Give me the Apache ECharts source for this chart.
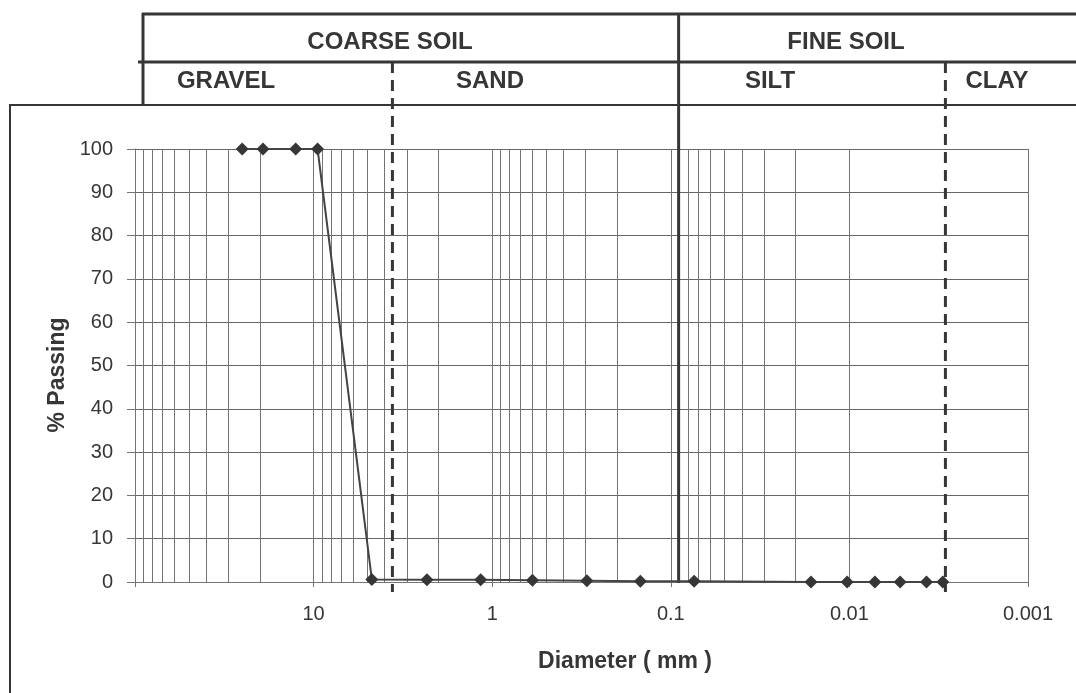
<!DOCTYPE html>
<html><head><meta charset="utf-8">
<script src="https://cdn.jsdelivr.net/npm/echarts@6/dist/echarts.min.js"></script>
<style>html,body{margin:0;padding:0;background:#fff}#c{width:1076px;height:693px}</style>
</head><body><div id="c"></div>
<script>
// ---- data ----
const diameters = [25.1, 19.2, 12.6, 9.5, 4.72, 2.32, 1.16, 0.595, 0.295, 0.148, 0.074, 0.0164, 0.0103, 0.0072, 0.0052, 0.0037, 0.0030];
const passing   = [100, 100, 100, 100, 0.6, 0.5, 0.5, 0.4, 0.3, 0.2, 0.2, 0, 0, 0, 0, 0, 0];
const xTickLabels = ['0.001', '0.01', '0.1', '1', '10', ''];   // for 10^-3 ... 10^2
const gridMultipliers = [2, 3, 4, 5, 6, 7, 8, 9];
const gridDecades = [0.001, 0.01, 0.1, 1, 10];
const boundaryDiameters = [3.62, 0.0904, 0.0029];
const boundaryKinds = ['dashed', 'solid', 'dashed'];
const groupNames = ['COARSE SOIL', 'FINE SOIL'];
const classNames = ['GRAVEL', 'SAND', 'SILT', 'CLAY'];
const xTitle = 'Diameter ( mm )';
const yTitle = '% Passing';

const INK = '#363636';
const GRID = '#747474';
const FONT = '"Liberation Sans", Arial, sans-serif';

const minorLines = [];
gridDecades.forEach(d => gridMultipliers.forEach(m => minorLines.push({ xAxis: +(d * m).toPrecision(3) })));

const chart = echarts.init(document.getElementById('c'), null, { renderer: 'canvas' });

const groupPos = [[390, 42], [846, 42]];
const classPos = [[226, 81], [490, 81], [770, 81], [997, 81]];
const graphics = [
  { type: 'polyline', shape: { points: [[10, 700], [10, 105], [1080, 105]] }, style: { stroke: INK, lineWidth: 2, fill: null } },
  { type: 'line', shape: { x1: 142, y1: 14, x2: 1080, y2: 14 }, style: { stroke: INK, lineWidth: 3 } },
  { type: 'line', shape: { x1: 138, y1: 62, x2: 1080, y2: 62 }, style: { stroke: INK, lineWidth: 3 } },
  { type: 'line', shape: { x1: 143, y1: 13, x2: 143, y2: 105 }, style: { stroke: INK, lineWidth: 3 } },
  {
    type: 'text', x: 625, y: 662,
    style: { text: xTitle, font: 'bold 23px ' + FONT, fill: INK, textAlign: 'center', textVerticalAlign: 'middle' }
  },
  {
    type: 'text', x: 58, y: 375, rotation: Math.PI / 2,
    style: { text: yTitle, font: 'bold 23px ' + FONT, fill: INK, textAlign: 'center', textVerticalAlign: 'middle' }
  }
];
groupNames.forEach((t, i) => graphics.push({
  type: 'text', x: groupPos[i][0], y: groupPos[i][1],
  style: { text: t, font: 'bold 24px ' + FONT, fill: INK, textAlign: 'center', textVerticalAlign: 'middle' }
}));
classNames.forEach((t, i) => graphics.push({
  type: 'text', x: classPos[i][0], y: classPos[i][1],
  style: { text: t, font: 'bold 24px ' + FONT, fill: INK, textAlign: 'center', textVerticalAlign: 'middle' }
}));

chart.setOption({
  backgroundColor: '#ffffff',
  animation: false,
  grid: { left: 135, right: 48, top: 149, bottom: 111, containLabel: false },
  xAxis: {
    type: 'log', logBase: 10, min: 0.001, max: 100, inverse: true, splitNumber: 5,
    axisLine: { show: true, lineStyle: { color: GRID, width: 1 } },
    axisTick: { show: true, length: 5, lineStyle: { color: GRID } },
    axisLabel: {
      margin: 22, color: INK, fontFamily: FONT, fontSize: 20,
      formatter: v => xTickLabels[Math.round(Math.log10(v)) + 3] || ''
    },
    splitLine: { show: true, lineStyle: { color: GRID, width: 1 } }
  },
  yAxis: {
    type: 'value', min: 0, max: 100, interval: 10,
    axisLine: { show: true, lineStyle: { color: GRID, width: 1 } },
    axisTick: { show: true, length: 8, lineStyle: { color: GRID } },
    axisLabel: { margin: 22, color: INK, fontFamily: FONT, fontSize: 20 },
    splitLine: { show: true, lineStyle: { color: '#666666', width: 1 } }
  },
  graphic: graphics,
  series: [
    {
      type: 'line', name: 'grid', data: [], silent: true,
      markLine: {
        silent: true, symbol: ['none', 'none'], animation: false,
        label: { show: false },
        lineStyle: { color: GRID, width: 1, type: 'solid' },
        data: minorLines
      }
    },
    {
      type: 'custom', name: 'boundaries', clip: false, silent: true, z: 5,
      data: boundaryDiameters.map(d => [d, 0]),
      encode: { x: 0, y: 1 },
      renderItem: (params, api) => {
        const p = api.coord([api.value(0), 0]);
        const solid = boundaryKinds[params.dataIndex] === 'solid';
        return {
          type: 'line',
          shape: { x1: p[0], y1: solid ? 13 : 62, x2: p[0], y2: solid ? p[1] + 1 : p[1] + 10 },
          style: { stroke: INK, lineWidth: 3, lineDash: solid ? null : [11, 7] }
        };
      }
    },
    {
      type: 'line', name: 'Passing', z: 6,
      data: diameters.map((d, i) => [d, passing[i]]),
      symbol: 'diamond', symbolSize: 13, showAllSymbol: true,
      itemStyle: { color: INK },
      lineStyle: { color: '#444444', width: 2 }
    }
  ]
});
</script>
</body></html>
